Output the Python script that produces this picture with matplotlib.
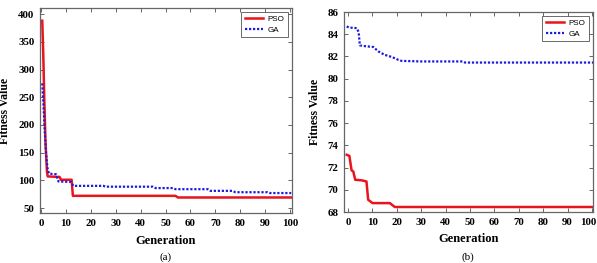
import matplotlib
matplotlib.use("Agg")
import matplotlib.pyplot as plt
from matplotlib.transforms import ScaledTranslation

# ---- data: panel (a) ----
a_pso_gen = [0.5, 0.9, 1.3, 1.8, 2.4, 2.7, 7.5, 8.0, 12.3, 12.8, 54.0, 55.0, 100.5]
a_pso_val = [388, 330, 250, 170, 115, 107, 106, 101, 101, 72, 72, 69, 69]
a_ga_gen = [0.5, 1.0, 1.5, 2.0, 2.6, 3.2, 6.0, 7.0, 12.0, 13.0, 25, 26, 45, 46, 53, 54, 67, 68, 77, 78, 91, 92, 100.5]
a_ga_val = [275, 235, 190, 150, 122, 112, 111, 98, 97, 90, 90, 88.5, 88.5, 86, 86, 84, 84, 81, 81, 78.5, 78.5, 77, 77]

# ---- data: panel (b) ----
b_pso_gen = [-0.5, 0.6, 1.5, 2.2, 3.0, 5.6, 7.6, 8.3, 10.1, 17.2, 19.2, 100.5]
b_pso_val = [73.15, 73.05, 71.75, 71.65, 70.9, 70.85, 70.75, 69.1, 68.8, 68.8, 68.45, 68.45]
b_ga_gen = [-0.5, 0.5, 3.6, 4.4, 4.9, 6.0, 10.4, 12.5, 15.0, 18.0, 20.6, 22.0, 30, 47, 48, 100.5]
b_ga_val = [84.7, 84.6, 84.55, 84.2, 83.0, 82.95, 82.85, 82.45, 82.15, 81.95, 81.7, 81.6, 81.55, 81.55, 81.45, 81.45]

x_ticks = list(range(0, 101, 10))
a_y_ticks = list(range(50, 401, 50))
b_y_ticks = list(range(68, 87, 2))

W, H = 597, 263
fig = plt.figure(figsize=(W / 100, H / 100), dpi=100)

serif = "Liberation Serif"
RED = "#e8141e"
BLUE = "#1a1ae0"
SPINE = "#666666"


def make_axes(l, r, t, b):
    return fig.add_axes([l / W, 1 - b / H, (r - l) / W, (b - t) / H])


def style(ax):
    for s in ax.spines.values():
        s.set_color(SPINE)
        s.set_linewidth(0.9)
    ax.tick_params(direction="in", length=3, width=0.7, color=SPINE,
                   top=True, right=True, labelsize=7.8, pad=4)
    for lab in ax.get_xticklabels() + ax.get_yticklabels():
        lab.set_fontfamily(serif)
        lab.set_fontweight("bold")
    ax.set_xlabel("Generation", fontfamily=serif, fontweight="bold", fontsize=9, labelpad=5)
    ax.set_ylabel("Fitness Value", fontfamily=serif, fontweight="bold", fontsize=8.5, labelpad=5)
    leg = ax.legend(loc="upper right", handlelength=2.2, handletextpad=0.6,
                    borderpad=0.45, labelspacing=0.35, frameon=True, fancybox=False,
                    borderaxespad=0.5, prop={"family": "Liberation Sans", "size": 5.8})
    leg.get_frame().set_edgecolor("#444444")
    leg.get_frame().set_linewidth(0.7)


# panel (a)
ax1 = make_axes(40, 292, 8, 213)
ax1.plot(a_pso_gen, a_pso_val, color=RED, lw=1.8, label="PSO")
ax1.plot(a_ga_gen, a_ga_val, color=BLUE, lw=1.6, linestyle=(0, (1, 0.8)), label="GA")
ax1.set_xlim(-0.4, 100.8)
ax1.set_ylim(41, 411)
ax1.set_xticks(x_ticks)
ax1.set_yticks(a_y_ticks)
style(ax1)
fig.text(166 / W, 1 - 257 / H, "(a)", ha="center", va="center", fontfamily=serif, fontsize=8)

# panel (b)
ax2 = make_axes(344, 593, 12, 212)
ax2.plot(b_pso_gen, b_pso_val, color=RED, lw=1.8, label="PSO")
ax2.plot(b_ga_gen, b_ga_val, color=BLUE, lw=1.6, linestyle=(0, (1, 0.8)), label="GA")
ax2.set_xlim(-1.6, 100.4)
ax2.set_ylim(68, 86)
ax2.set_xticks(x_ticks)
ax2.set_yticks(b_y_ticks)
style(ax2)
fig.text(468 / W, 1 - 257 / H, "(b)", ha="center", va="center", fontfamily=serif, fontsize=8)

# nudge the last tick label of panel (b) so it stays inside the figure
last = ax2.get_xticklabels()[-1]
last.set_transform(last.get_transform() + ScaledTranslation(-4 / 100, 0, fig.dpi_scale_trans))

fig.savefig("out.png", dpi=100)
